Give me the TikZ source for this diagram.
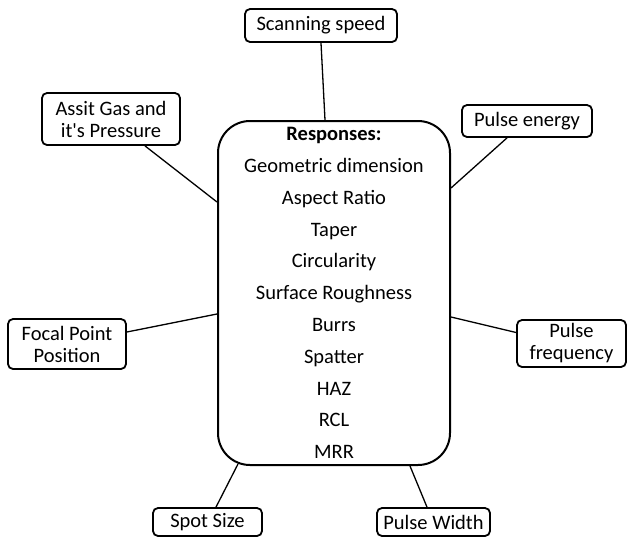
\documentclass[tikz,border=0pt]{standalone}
\usepackage{fontspec}
\setmainfont{Carlito}
\begin{document}
\begin{tikzpicture}[x=1pt,y=-1pt,
  param/.style={draw,line width=1.8pt,rounded corners=5pt,align=center,inner sep=0pt,
    font=\fontsize{20.5}{22}\selectfont},
  link/.style={line width=1.3pt}] % one unit = one pixel of the figure

  \useasboundingbox (0,0) rectangle (627,536);

  \node[draw,line width=2pt,rounded corners=32pt,minimum width=232pt,minimum height=344pt,
    align=center,font=\fontsize{20.5}{31.8}\selectfont](resp) at (334,293)
    {\textbf{Responses:}\\Geometric dimension\\Aspect Ratio\\Taper\\Circularity\\
     Surface Roughness\\Burrs\\Spatter\\HAZ\\RCL\\MRR};

  \node[param,minimum width=152pt,minimum height=33pt](speed) at (321,25.5) {Scanning speed};
  \node[param,minimum width=138pt,minimum height=52pt](gas) at (111,119) {Assit Gas and\\it\textquotesingle s Pressure};
  \node[param,minimum width=130pt,minimum height=32pt](energy) at (527,121) {Pulse energy};
  \node[param,minimum width=118pt,minimum height=50pt](focal) at (67,344) {Focal Point\\Position};
  \node[param,minimum width=109pt,minimum height=47pt](freq) at (571.5,343.5) {Pulse\\frequency};
  \node[param,minimum width=109pt,minimum height=28pt](spot) at (207.5,522) {Spot Size};
  \node[param,minimum width=113pt,minimum height=28pt](width) at (433.5,522) {Pulse Width};

  \draw[link] (speed.south) -- ([xshift=-9pt]resp.north);
  \draw[link] ([xshift=34pt]gas.south) -- ([yshift=91pt]resp.west);
  \draw[link] ([xshift=-20pt]energy.south) -- ([yshift=105pt]resp.east);
  \draw[link] ([yshift=12pt]focal.east) -- ([yshift=-21pt]resp.west);
  \draw[link] ([yshift=11pt]freq.west) -- ([yshift=-24pt]resp.east);
  \draw[link] ([xshift=8.5pt]spot.north) -- ([xshift=-96pt,yshift=2pt]resp.south);
  \draw[link] ([xshift=-6.5pt]width.north) -- ([xshift=76pt]resp.south);

\end{tikzpicture}
\end{document}
